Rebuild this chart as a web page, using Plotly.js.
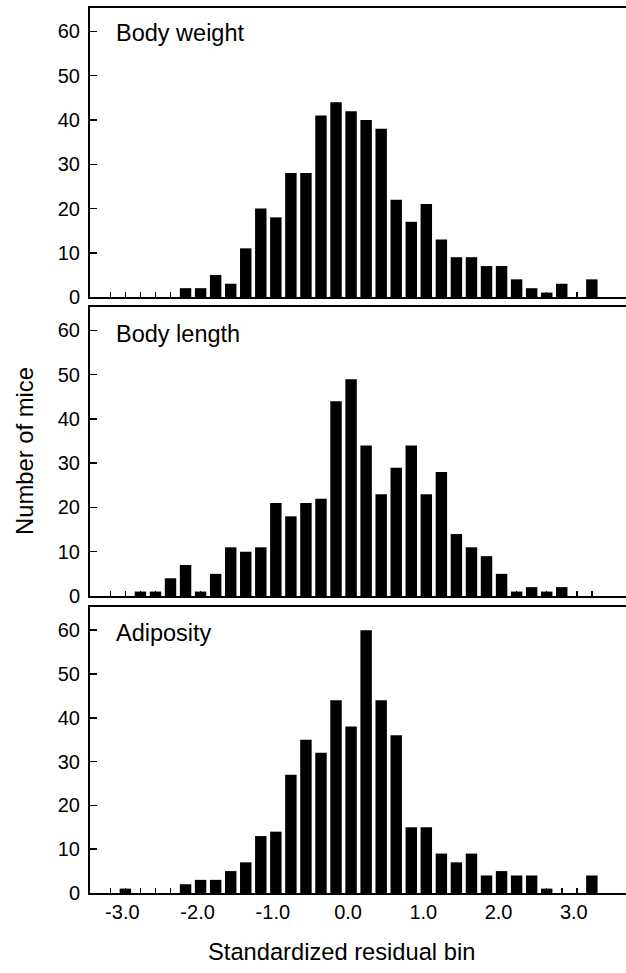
<!DOCTYPE html>
<html>
<head>
<meta charset="utf-8">
<script src="https://cdn.plot.ly/plotly-3.0.1.min.js"></script>
<style>
html,body{margin:0;padding:0;overflow:hidden;background:#fff;}
#chart{width:650px;height:973px;}
</style>
</head>
<body>
<div id="chart"></div>
<script>
const binCenters = [-3.16, -2.96, -2.76, -2.56, -2.36, -2.16, -1.96, -1.76, -1.56, -1.36, -1.16, -0.96, -0.76, -0.56, -0.36, -0.16, 0.04, 0.24, 0.44, 0.64, 0.84, 1.04, 1.24, 1.44, 1.64, 1.84, 2.04, 2.24, 2.44, 2.64, 2.84, 3.04, 3.24];
const bodyWeight = [0,0,0,0,0,2,2,5,3,11,20,18,28,28,41,44,42,40,38,22,17,21,13,9,9,7,7,4,2,1,3,0,4];
const bodyLength = [0,0,1,1,4,7,1,5,11,10,11,21,18,21,22,44,49,34,23,29,34,23,28,14,11,9,5,1,2,1,2,0,0];
const adiposity = [0,1,0,0,0,2,3,3,5,7,13,14,27,35,32,44,38,60,44,36,15,15,9,7,9,4,5,4,4,1,0,0,4];
const panelNames = ["Body weight", "Body length", "Adiposity"];
const xTickVals = [-3, -2, -1, 0, 1, 2, 3];
const xTickText = ["-3.0", "-2.0", "-1.0", "0.0", "1.0", "2.0", "3.0"];
const yTickVals = [0, 10, 20, 30, 40, 50, 60];

const FONT = "Liberation Sans, Arial, Helvetica, sans-serif";
const series = [bodyWeight, bodyLength, adiposity];
const traces = series.map((vals, i) => ({
  type: "bar",
  x: binCenters,
  y: vals,
  xaxis: i === 0 ? "x" : "x" + (i + 1),
  yaxis: i === 0 ? "y" : "y" + (i + 1),
  marker: {color: "#000", line: {width: 0}},
  hoverinfo: "x+y",
  showlegend: false
}));

const domains = [[0.6734, 1.0], [0.3356, 0.6621], [0.0, 0.3232]];
const titleY = [0.9135, 0.9066, 0.909];
const layout = {
  width: 650, height: 973,
  margin: {l: 90, r: 10, t: 8, b: 80},
  paper_bgcolor: "#fff", plot_bgcolor: "#fff",
  bargap: 0.24,
  font: {family: FONT, color: "#000", size: 20},
  annotations: []
};
for (let i = 0; i < 3; i++) {
  const xa = i === 0 ? "xaxis" : "xaxis" + (i + 1);
  const ya = i === 0 ? "yaxis" : "yaxis" + (i + 1);
  const yid = i === 0 ? "y" : "y" + (i + 1);
  const xid = i === 0 ? "x" : "x" + (i + 1);
  layout[xa] = {
    anchor: yid, range: [-3.43, 3.88], showgrid: false, zeroline: false,
    showline: true, linewidth: 2, linecolor: "#000", mirror: true,
    tickmode: "array", tickvals: xTickVals, ticktext: xTickText,
    ticks: "", showticklabels: i === 2, tickfont: {size: 20, family: FONT},
    minor: {tickmode: "array", tickvals: binCenters, ticks: "inside", ticklen: 5, tickwidth: 1.5, tickcolor: "#000", showgrid: false}
  };
  layout[ya] = {
    anchor: xid, domain: domains[i], range: [0, 65.3], showgrid: false, zeroline: false,
    showline: true, linewidth: 2, linecolor: "#000", mirror: true,
    tickmode: "array", tickvals: yTickVals, ticks: "inside", ticklen: 7, tickwidth: 1.5, tickcolor: "#000",
    ticklabelstandoff: 4,
    tickfont: {size: 20, family: FONT}
  };
  layout.annotations.push({
    text: panelNames[i], xref: xid + " domain", yref: yid + " domain",
    x: 0.043, y: titleY[i], xanchor: "left", yanchor: "middle",
    showarrow: false, font: {size: 23.5, family: FONT}
  });
}
layout.annotations.push({
  text: "Number of mice", xref: "paper", yref: "paper", x: -0.12, y: 0.4994,
  xanchor: "center", yanchor: "middle", textangle: -90, showarrow: false,
  font: {size: 23.8, family: FONT}
});
layout.annotations.push({
  text: "Standardized residual bin", xref: "paper", yref: "paper", x: 0.4576, y: -0.0667,
  xanchor: "center", yanchor: "middle", showarrow: false,
  font: {size: 23.7, family: FONT}
});

Plotly.newPlot("chart", traces, layout, {displayModeBar: false, staticPlot: true});
</script>
</body>
</html>
